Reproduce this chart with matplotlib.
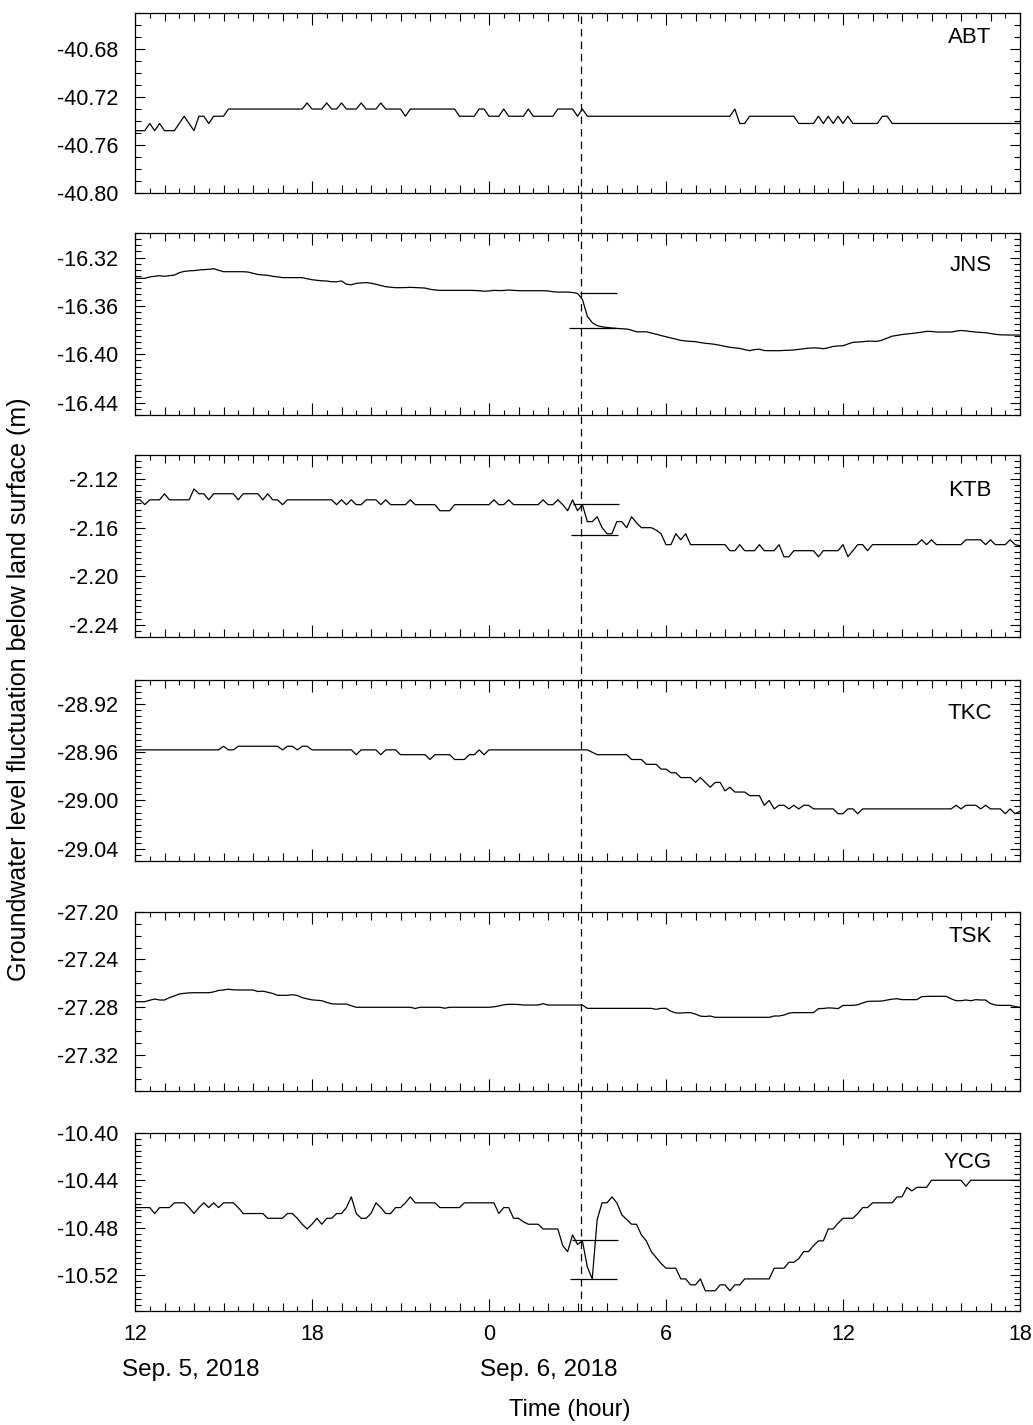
import matplotlib
matplotlib.use("Agg")
import matplotlib.pyplot as plt
import numpy as np
from matplotlib.ticker import MultipleLocator, FixedLocator, FuncFormatter, FormatStrFormatter

plt.rcParams['font.family'] = ['Liberation Sans', 'DejaVu Sans']
plt.rcParams['axes.unicode_minus'] = False

# 10-minute readings, hour counted from 0:00 Sep. 5 (12 -> 42 = 18:00 Sep. 6)
hours = 12 + np.arange(181) / 6.0
quake_hour = 27.13

stations = ["ABT", "JNS", "KTB", "TKC", "TSK", "YCG"]

abt = [
    -40.748, -40.748, -40.748, -40.742, -40.748, -40.742, -40.748, -40.748, -40.748, -40.742,
    -40.736, -40.742, -40.748, -40.736, -40.736, -40.742, -40.736, -40.736, -40.736, -40.730,
    -40.730, -40.730, -40.730, -40.730, -40.730, -40.730, -40.730, -40.730, -40.730, -40.730,
    -40.730, -40.730, -40.730, -40.730, -40.730, -40.725, -40.730, -40.730, -40.730, -40.725,
    -40.730, -40.730, -40.725, -40.730, -40.730, -40.730, -40.725, -40.730, -40.730, -40.730,
    -40.725, -40.730, -40.730, -40.730, -40.730, -40.736, -40.730, -40.730, -40.730, -40.730,
    -40.730, -40.730, -40.730, -40.730, -40.730, -40.730, -40.736, -40.736, -40.736, -40.736,
    -40.730, -40.730, -40.736, -40.736, -40.736, -40.730, -40.736, -40.736, -40.736, -40.736,
    -40.730, -40.736, -40.736, -40.736, -40.736, -40.736, -40.730, -40.730, -40.730, -40.730,
    -40.736, -40.730, -40.736, -40.736, -40.736, -40.736, -40.736, -40.736, -40.736, -40.736,
    -40.736, -40.736, -40.736, -40.736, -40.736, -40.736, -40.736, -40.736, -40.736, -40.736,
    -40.736, -40.736, -40.736, -40.736, -40.736, -40.736, -40.736, -40.736, -40.736, -40.736,
    -40.736, -40.736, -40.730, -40.742, -40.742, -40.736, -40.736, -40.736, -40.736, -40.736,
    -40.736, -40.736, -40.736, -40.736, -40.736, -40.742, -40.742, -40.742, -40.742, -40.736,
    -40.742, -40.736, -40.742, -40.736, -40.742, -40.736, -40.742, -40.742, -40.742, -40.742,
    -40.742, -40.742, -40.736, -40.736, -40.742, -40.742, -40.742, -40.742, -40.742, -40.742,
    -40.742, -40.742, -40.742, -40.742, -40.742, -40.742, -40.742, -40.742, -40.742, -40.742,
    -40.742, -40.742, -40.742, -40.742, -40.742, -40.742, -40.742, -40.742, -40.742, -40.742,
    -40.742,
]

jns = [
    -16.3372, -16.3372, -16.3372, -16.3360, -16.3355, -16.3350, -16.3355, -16.3350, -16.3345, -16.3325,
    -16.3315, -16.3310, -16.3308, -16.3303, -16.3300, -16.3297, -16.3292, -16.3305, -16.3317, -16.3317,
    -16.3317, -16.3317, -16.3317, -16.3320, -16.3330, -16.3340, -16.3344, -16.3347, -16.3355, -16.3360,
    -16.3366, -16.3366, -16.3366, -16.3366, -16.3366, -16.3375, -16.3383, -16.3388, -16.3392, -16.3394,
    -16.3400, -16.3400, -16.3394, -16.3420, -16.3425, -16.3413, -16.3410, -16.3407, -16.3412, -16.3421,
    -16.3431, -16.3441, -16.3445, -16.3449, -16.3449, -16.3448, -16.3446, -16.3448, -16.3450, -16.3452,
    -16.3462, -16.3468, -16.3471, -16.3471, -16.3471, -16.3471, -16.3471, -16.3471, -16.3471, -16.3472,
    -16.3474, -16.3478, -16.3476, -16.3471, -16.3473, -16.3472, -16.3468, -16.3471, -16.3474, -16.3474,
    -16.3474, -16.3474, -16.3474, -16.3474, -16.3476, -16.3482, -16.3486, -16.3485, -16.3485, -16.3489,
    -16.3496, -16.3545, -16.3685, -16.3738, -16.3762, -16.3772, -16.3777, -16.3782, -16.3785, -16.3788,
    -16.3790, -16.3800, -16.3813, -16.3813, -16.3813, -16.3823, -16.3833, -16.3844, -16.3854, -16.3864,
    -16.3874, -16.3884, -16.3889, -16.3892, -16.3895, -16.3902, -16.3908, -16.3912, -16.3917, -16.3925,
    -16.3933, -16.3941, -16.3946, -16.3950, -16.3960, -16.3969, -16.3960, -16.3957, -16.3968, -16.3969,
    -16.3969, -16.3969, -16.3967, -16.3965, -16.3963, -16.3958, -16.3953, -16.3948, -16.3946, -16.3947,
    -16.3953, -16.3945, -16.3934, -16.3930, -16.3928, -16.3914, -16.3900, -16.3898, -16.3895, -16.3890,
    -16.3891, -16.3892, -16.3881, -16.3865, -16.3849, -16.3843, -16.3836, -16.3831, -16.3827, -16.3822,
    -16.3816, -16.3810, -16.3810, -16.3815, -16.3815, -16.3815, -16.3815, -16.3808, -16.3802, -16.3806,
    -16.3811, -16.3815, -16.3818, -16.3821, -16.3827, -16.3834, -16.3838, -16.3839, -16.3840, -16.3840,
    -16.3840,
]

ktb = [
    -2.137, -2.137, -2.141, -2.137, -2.137, -2.137, -2.132, -2.137, -2.137, -2.137,
    -2.137, -2.137, -2.128, -2.132, -2.132, -2.137, -2.132, -2.132, -2.132, -2.132,
    -2.132, -2.137, -2.132, -2.132, -2.132, -2.132, -2.137, -2.132, -2.137, -2.137,
    -2.141, -2.137, -2.137, -2.137, -2.137, -2.137, -2.137, -2.137, -2.137, -2.137,
    -2.137, -2.141, -2.137, -2.141, -2.137, -2.141, -2.141, -2.137, -2.137, -2.137,
    -2.141, -2.137, -2.141, -2.141, -2.141, -2.141, -2.137, -2.141, -2.141, -2.141,
    -2.141, -2.141, -2.146, -2.146, -2.146, -2.141, -2.141, -2.141, -2.141, -2.141,
    -2.141, -2.141, -2.141, -2.137, -2.141, -2.141, -2.137, -2.141, -2.141, -2.141,
    -2.141, -2.141, -2.141, -2.137, -2.141, -2.141, -2.137, -2.141, -2.146, -2.137,
    -2.146, -2.141, -2.155, -2.155, -2.151, -2.160, -2.165, -2.165, -2.155, -2.155,
    -2.160, -2.151, -2.156, -2.160, -2.160, -2.160, -2.162, -2.165, -2.174, -2.174,
    -2.165, -2.170, -2.165, -2.174, -2.174, -2.174, -2.174, -2.174, -2.174, -2.174,
    -2.174, -2.179, -2.179, -2.174, -2.179, -2.179, -2.179, -2.174, -2.179, -2.179,
    -2.179, -2.174, -2.184, -2.184, -2.179, -2.179, -2.179, -2.179, -2.179, -2.184,
    -2.179, -2.179, -2.179, -2.179, -2.174, -2.184, -2.179, -2.174, -2.174, -2.179,
    -2.174, -2.174, -2.174, -2.174, -2.174, -2.174, -2.174, -2.174, -2.174, -2.174,
    -2.170, -2.174, -2.170, -2.174, -2.174, -2.174, -2.174, -2.174, -2.174, -2.170,
    -2.170, -2.170, -2.170, -2.174, -2.170, -2.174, -2.174, -2.174, -2.170, -2.174,
    -2.175,
]

tkc = [
    -28.958, -28.958, -28.958, -28.958, -28.958, -28.958, -28.958, -28.958, -28.958, -28.958,
    -28.958, -28.958, -28.958, -28.958, -28.958, -28.958, -28.958, -28.958, -28.955, -28.958,
    -28.958, -28.955, -28.955, -28.955, -28.955, -28.955, -28.955, -28.955, -28.955, -28.955,
    -28.958, -28.955, -28.955, -28.958, -28.955, -28.955, -28.958, -28.958, -28.958, -28.958,
    -28.958, -28.958, -28.958, -28.958, -28.958, -28.962, -28.958, -28.958, -28.958, -28.958,
    -28.962, -28.958, -28.958, -28.958, -28.962, -28.962, -28.962, -28.962, -28.962, -28.962,
    -28.966, -28.962, -28.962, -28.962, -28.962, -28.966, -28.966, -28.966, -28.962, -28.962,
    -28.958, -28.962, -28.958, -28.958, -28.958, -28.958, -28.958, -28.958, -28.958, -28.958,
    -28.958, -28.958, -28.958, -28.958, -28.958, -28.958, -28.958, -28.958, -28.958, -28.958,
    -28.958, -28.958, -28.958, -28.960, -28.962, -28.962, -28.962, -28.962, -28.962, -28.962,
    -28.962, -28.966, -28.966, -28.966, -28.970, -28.970, -28.970, -28.974, -28.974, -28.977,
    -28.977, -28.981, -28.981, -28.981, -28.985, -28.981, -28.985, -28.989, -28.985, -28.985,
    -28.992, -28.989, -28.993, -28.993, -28.993, -28.996, -28.996, -28.996, -29.004, -29.000,
    -29.007, -29.004, -29.004, -29.007, -29.004, -29.007, -29.004, -29.004, -29.007, -29.007,
    -29.007, -29.007, -29.007, -29.011, -29.011, -29.007, -29.007, -29.011, -29.007, -29.007,
    -29.007, -29.007, -29.007, -29.007, -29.007, -29.007, -29.007, -29.007, -29.007, -29.007,
    -29.007, -29.007, -29.007, -29.007, -29.007, -29.007, -29.007, -29.004, -29.007, -29.004,
    -29.004, -29.004, -29.007, -29.004, -29.007, -29.007, -29.007, -29.011, -29.007, -29.011,
    -29.009,
]

tsk = [
    -27.2754, -27.2754, -27.2754, -27.2742, -27.2732, -27.2740, -27.2740, -27.2720, -27.2706, -27.2690,
    -27.2684, -27.2680, -27.2679, -27.2679, -27.2679, -27.2679, -27.2672, -27.2660, -27.2656, -27.2649,
    -27.2655, -27.2656, -27.2656, -27.2656, -27.2656, -27.2669, -27.2666, -27.2675, -27.2685, -27.2701,
    -27.2701, -27.2700, -27.2696, -27.2702, -27.2720, -27.2730, -27.2739, -27.2742, -27.2746, -27.2760,
    -27.2772, -27.2774, -27.2774, -27.2774, -27.2788, -27.2801, -27.2801, -27.2801, -27.2801, -27.2801,
    -27.2801, -27.2801, -27.2801, -27.2801, -27.2801, -27.2801, -27.2801, -27.2811, -27.2801, -27.2801,
    -27.2801, -27.2801, -27.2801, -27.2809, -27.2801, -27.2801, -27.2801, -27.2801, -27.2801, -27.2801,
    -27.2801, -27.2801, -27.2801, -27.2797, -27.2790, -27.2780, -27.2776, -27.2776, -27.2778, -27.2782,
    -27.2782, -27.2782, -27.2782, -27.2771, -27.2782, -27.2782, -27.2782, -27.2782, -27.2782, -27.2782,
    -27.2782, -27.2782, -27.2810, -27.2810, -27.2810, -27.2810, -27.2810, -27.2810, -27.2810, -27.2810,
    -27.2810, -27.2810, -27.2810, -27.2810, -27.2810, -27.2810, -27.2818, -27.2810, -27.2810, -27.2835,
    -27.2848, -27.2850, -27.2846, -27.2846, -27.2858, -27.2875, -27.2878, -27.2874, -27.2885, -27.2885,
    -27.2885, -27.2885, -27.2885, -27.2885, -27.2885, -27.2885, -27.2885, -27.2885, -27.2885, -27.2885,
    -27.2874, -27.2874, -27.2866, -27.2850, -27.2846, -27.2846, -27.2846, -27.2846, -27.2846, -27.2812,
    -27.2811, -27.2806, -27.2808, -27.2812, -27.2786, -27.2785, -27.2785, -27.2780, -27.2765, -27.2752,
    -27.2750, -27.2750, -27.2748, -27.2740, -27.2733, -27.2729, -27.2737, -27.2737, -27.2737, -27.2737,
    -27.2712, -27.2710, -27.2709, -27.2709, -27.2709, -27.2709, -27.2730, -27.2746, -27.2746, -27.2740,
    -27.2746, -27.2737, -27.2740, -27.2740, -27.2770, -27.2782, -27.2785, -27.2785, -27.2785, -27.2795,
    -27.2801,
]

ycg = [
    -10.463, -10.463, -10.463, -10.463, -10.468, -10.463, -10.463, -10.463, -10.459, -10.459,
    -10.459, -10.463, -10.468, -10.463, -10.459, -10.463, -10.459, -10.463, -10.459, -10.459,
    -10.459, -10.463, -10.468, -10.468, -10.468, -10.468, -10.468, -10.472, -10.472, -10.472,
    -10.472, -10.468, -10.468, -10.472, -10.477, -10.481, -10.477, -10.472, -10.477, -10.472,
    -10.472, -10.468, -10.468, -10.463, -10.454, -10.468, -10.472, -10.472, -10.468, -10.459,
    -10.463, -10.468, -10.468, -10.463, -10.463, -10.459, -10.454, -10.459, -10.459, -10.459,
    -10.459, -10.459, -10.463, -10.463, -10.463, -10.463, -10.463, -10.459, -10.459, -10.459,
    -10.459, -10.459, -10.459, -10.459, -10.468, -10.463, -10.463, -10.472, -10.472, -10.475,
    -10.477, -10.477, -10.477, -10.481, -10.481, -10.481, -10.481, -10.495, -10.500, -10.486,
    -10.494, -10.491, -10.513, -10.523, -10.473, -10.459, -10.459, -10.454, -10.459, -10.469,
    -10.473, -10.477, -10.477, -10.486, -10.491, -10.500, -10.505, -10.510, -10.514, -10.514,
    -10.514, -10.523, -10.523, -10.528, -10.528, -10.523, -10.533, -10.533, -10.533, -10.528,
    -10.528, -10.533, -10.528, -10.528, -10.523, -10.523, -10.523, -10.523, -10.523, -10.523,
    -10.514, -10.514, -10.514, -10.509, -10.509, -10.506, -10.500, -10.500, -10.495, -10.491,
    -10.491, -10.481, -10.481, -10.476, -10.472, -10.472, -10.472, -10.468, -10.463, -10.463,
    -10.459, -10.459, -10.459, -10.459, -10.459, -10.454, -10.454, -10.446, -10.449, -10.446,
    -10.446, -10.446, -10.440, -10.440, -10.440, -10.440, -10.440, -10.440, -10.440, -10.445,
    -10.440, -10.440, -10.440, -10.440, -10.440, -10.440, -10.440, -10.440, -10.440, -10.440,
    -10.440,
]

series = [abt, jns, ktb, tkc, tsk, ycg]

ylims = [(-40.80, -40.65), (-16.45, -16.30), (-2.25, -2.10),
         (-29.05, -28.90), (-27.35, -27.20), (-10.55, -10.40)]
yticks = [[-40.80, -40.76, -40.72, -40.68],
          [-16.44, -16.40, -16.36, -16.32],
          [-2.24, -2.20, -2.16, -2.12],
          [-29.04, -29.00, -28.96, -28.92],
          [-27.32, -27.28, -27.24, -27.20],
          [-10.52, -10.48, -10.44, -10.40]]
yminor = [0.01, 0.005, 0.005, 0.005, 0.01, 0.005]

# levels before / after the quake: (level, start hour, end hour)
step_lines = {
    "JNS": [(-16.349, 27.08, 28.33), (-16.378, 26.72, 28.29)],
    "KTB": [(-2.1405, 26.86, 28.41), (-2.1661, 26.78, 28.36)],
    "YCG": [(-10.4905, 26.80, 28.36), (-10.523, 26.75, 28.33)],
}

# layout in pixels of the reference
W, H = 1033, 1425
x0, x1 = 135, 1020
panels = [(12.7, 193.3), (233.3, 415), (455, 636.7), (680, 860.7),
          (911.7, 1090.7), (1132.7, 1311)]
label_y = [0.862, 0.824, 0.807, 0.815, 0.86, 0.833]

fig = plt.figure(figsize=(W / 100, H / 100), dpi=100)

hour_fmt = FuncFormatter(lambda v, p: "%d" % (int(round(v)) % 24))

for k, name in enumerate(stations):
    top, bot = panels[k]
    ax = fig.add_axes([x0 / W, 1 - bot / H, (x1 - x0) / W, (bot - top) / H])

    # half-hour ticks on a twin x axis
    tw = ax.twiny()
    tw.set_xlim(12, 42)
    tw.xaxis.set_major_locator(FixedLocator(np.arange(12.5, 42, 1.0)))
    tw.tick_params(axis='x', direction='in', length=3.6, width=0.8,
                   top=True, bottom=True, labeltop=False, labelbottom=False)
    for s in tw.spines.values():
        s.set_visible(False)

    ax.plot(hours, series[k], color='k', lw=0.9)
    for lev, a, b in step_lines.get(name, []):
        ax.hlines(lev, a, b, color='k', lw=0.9)

    ax.set_xlim(12, 42)
    ax.set_ylim(*ylims[k])
    ax.xaxis.set_major_locator(MultipleLocator(6))
    ax.xaxis.set_minor_locator(MultipleLocator(1))
    ax.xaxis.set_major_formatter(hour_fmt)
    ax.yaxis.set_major_locator(FixedLocator(yticks[k]))
    ax.yaxis.set_minor_locator(MultipleLocator(yminor[k]))
    ax.yaxis.set_major_formatter(FormatStrFormatter('%.2f'))

    ax.tick_params(which='both', direction='in', top=True, bottom=True,
                   left=True, right=True, width=0.8, labelsize=15.5)
    ax.tick_params(axis='x', which='major', length=8.6, pad=9)
    ax.tick_params(axis='x', which='minor', length=5.8)
    ax.tick_params(axis='y', which='major', length=7.2, pad=12)
    ax.tick_params(axis='y', which='minor', length=4.3)
    ax.tick_params(axis='x', labelbottom=(k == len(stations) - 1))
    for s in ax.spines.values():
        s.set_linewidth(0.9)

    ax.text(0.968, label_y[k], name, transform=ax.transAxes,
            ha='right', va='center', fontsize=16)

# dashed line of the quake time through all panels
top, bot = panels[0][0], panels[-1][1]
ov = fig.add_axes([x0 / W, 1 - bot / H, (x1 - x0) / W, (bot - top) / H])
ov.set_xlim(12, 42)
ov.set_ylim(0, 1)
ov.axis('off')
ov.axvline(quake_hour, color='k', lw=0.9, ls=(0, (6, 4)))

fig.text(122 / W, 1 - 1370 / H, "Sep. 5, 2018", ha='left', va='center', fontsize=17.5)
fig.text(480 / W, 1 - 1370 / H, "Sep. 6, 2018", ha='left', va='center', fontsize=17.5)
fig.text(570 / W, 1 - 1410 / H, "Time (hour)", ha='center', va='center', fontsize=17)
fig.text(19 / W, 1 - 689 / H, "Groundwater level fluctuation below land surface (m)",
         rotation=90, ha='center', va='center', fontsize=18)

fig.savefig("out.png", dpi=100)
